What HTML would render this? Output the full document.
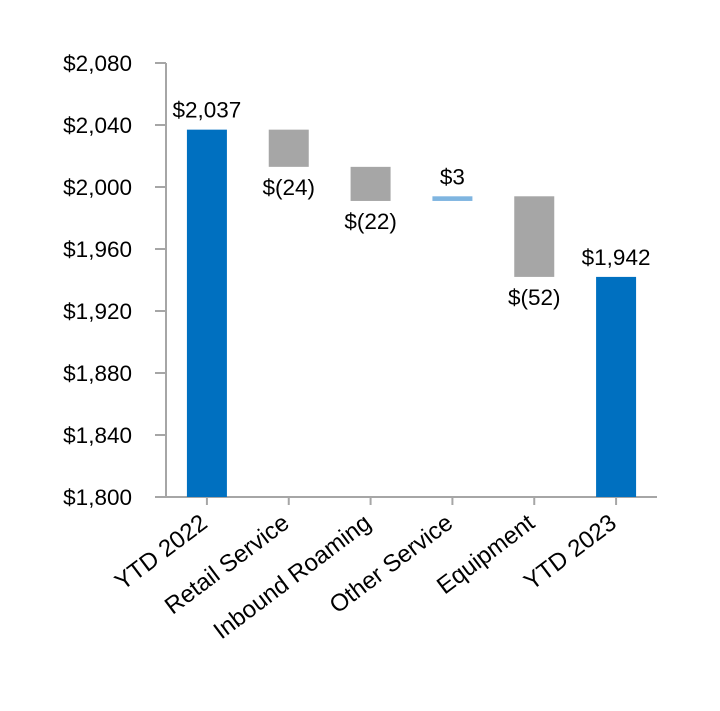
<!DOCTYPE html>
<html><head><meta charset="utf-8"><style>
body{margin:0;background:#fff}
svg text{font-family:"Liberation Sans",Arial,sans-serif;fill:#000}
</style></head><body>
<svg id="chart" width="720" height="706" viewBox="0 0 720 706" xmlns="http://www.w3.org/2000/svg"></svg>
<script>
const categories=["YTD 2022","Retail Service","Inbound Roaming","Other Service","Equipment","YTD 2023"];
const deltas=[2037,-24,-22,3,-52,1942];
const kinds=["total","delta","delta","delta","delta","total"];
const valueLabels=["$2,037","$(24)","$(22)","$3","$(52)","$1,942"];
const yTicks=[1800,1840,1880,1920,1960,2000,2040,2080];
const yTickLabels=["$1,800","$1,840","$1,880","$1,920","$1,960","$2,000","$2,040","$2,080"];

const NS="http://www.w3.org/2000/svg";
const svg=document.getElementById('chart');
const x0=166,x1=657,yBot=497,yTop=63,vMin=1800,vMax=2080;
const step=(x1-x0)/categories.length;
const yS=v=>yBot-(v-vMin)/(vMax-vMin)*(yBot-yTop);
const xC=i=>x0+step*(i+0.5);
function mk(tag,attrs,parent){const e=document.createElementNS(NS,tag);for(const k in attrs)e.setAttribute(k,attrs[k]);(parent||svg).appendChild(e);return e;}

const ya=mk('line',{x1:x0,y1:yTop,x2:x0,y2:yBot,stroke:'#a6a6a6','stroke-width':2});


const xa=mk('line',{x1:x0-11,y1:yBot,x2:x1,y2:yBot,stroke:'#a6a6a6','stroke-width':2});



yTicks.forEach((t,i)=>{
  const y=yS(t);
  const tk=mk('line',{x1:x0-11,y1:y,x2:x0,y2:y,stroke:'#a6a6a6','stroke-width':2});
  
  
  const tx=mk('text',{x:132,y:y+8,'text-anchor':'end','font-size':22.5});
  tx.textContent=yTickLabels[i];
  
  
});

let running=0;
categories.forEach((c,i)=>{
  const cx=xC(i);
  let top,bot,color;
  if(kinds[i]==='total'){top=deltas[i];bot=vMin;running=deltas[i];color='#0070c0';}
  else{const s=running,e=running+deltas[i];top=Math.max(s,e);bot=Math.min(s,e);running=e;color=deltas[i]>=0?'#7fb5e0':'#a6a6a6';}
  const r=mk('rect',{x:cx-20,y:yS(top),width:40,height:Math.max(yS(bot)-yS(top),1),fill:color});
  
  
  let ly;
  if(kinds[i]==='total'||deltas[i]>=0) ly=yS(top)-12;
  else ly=yS(bot)+28;
  const lt=mk('text',{x:cx,y:ly,'text-anchor':'middle','font-size':22.5});
  lt.textContent=valueLabels[i];
  
  
  const tk=mk('line',{x1:cx,y1:yBot,x2:cx,y2:yBot+8,stroke:'#a6a6a6','stroke-width':2});
  
  
  const xl=mk('text',{x:0,y:0,'text-anchor':'end','font-size':24,transform:`translate(${cx+2},${yBot+29}) rotate(-37)`});
  xl.textContent=c;
  
  
});
</script>
</body></html>
